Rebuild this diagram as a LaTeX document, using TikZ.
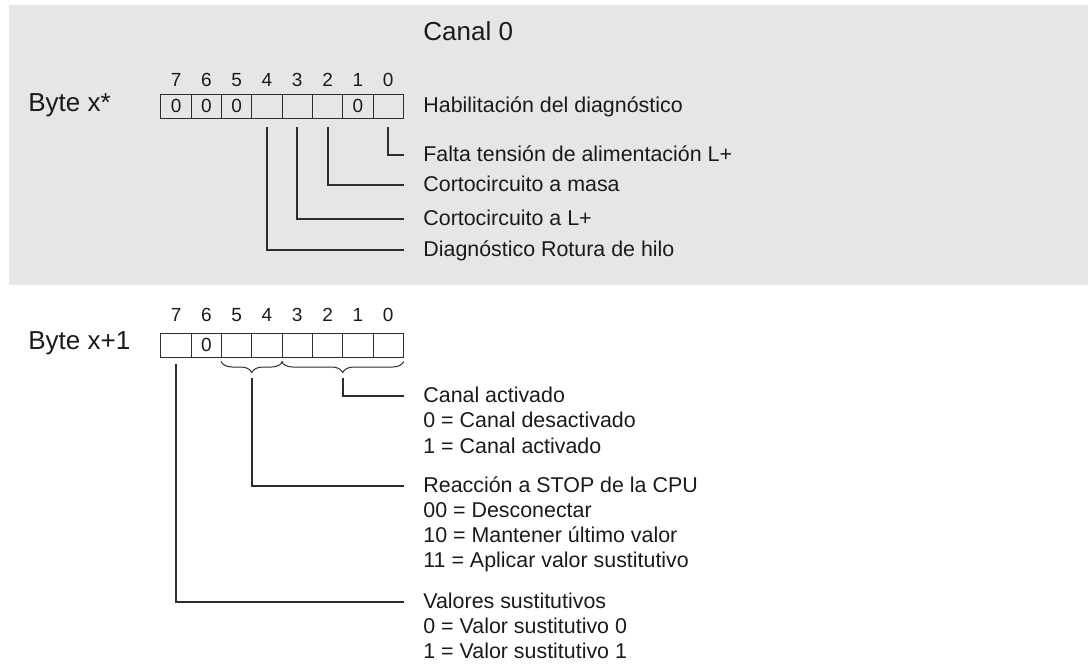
\documentclass[tikz,border=0pt]{standalone}
\usepackage{fontspec}
\setmainfont{Liberation Sans}
\usepackage{tikz}
\usetikzlibrary{positioning, decorations.pathreplacing}
\usepackage{xcolor}
\definecolor{panelgray}{RGB}{230,230,230}
\definecolor{inkgray}{RGB}{45,45,45}
\definecolor{textblack}{RGB}{26,26,26}
\tikzset{bitcell/.style={rectangle, draw=inkgray, line width=0.5pt, minimum width=15.15pt, minimum height=12pt, inner sep=0pt, text=textblack, font=\fontsize{9.5}{11}\selectfont},bitnumber/.style={inner sep=0pt, text=textblack, font=\fontsize{9.5}{11}\selectfont}}
\tikzset{desctext/.style={anchor=west, inner xsep=9.5pt, inner ysep=0pt, text height=7.5pt, text depth=1.5pt, text=textblack, font=\fontsize{10.7}{12}\selectfont},bytelabel/.style={anchor=west, inner sep=0pt, text=textblack, font=\fontsize{13}{15}\selectfont}}

\begin{document}
\begin{tikzpicture}[
        x=0.5pt, y=-0.5pt,
        leader/.style={draw=inkgray, line width=1pt},
        bracestyle/.style={draw=inkgray, line width=0.5pt, decorate, decoration={brace, mirror, amplitude=5.5pt}}
    ]
        % Frame
        \useasboundingbox (0,0) rectangle (1090,669);
        \fill[panelgray] (9,5) rectangle (1088,285);
        % Titles
        \node[desctext, font=\fontsize{13}{15}\selectfont, text height=9.5pt, text depth=2pt] (canal) at (404,33) {Canal 0};
        \node[bytelabel] (bytex) at (28,105) {Byte x*};
        \node[bytelabel] (bytexone) at (28,343) {Byte x+1};
        % Byte x* cells
        \foreach \i/\v in {7/0, 6/0, 5/0, 4/{}, 3/{}, 2/{}, 1/0, 0/{}} {
            \node[bitcell] (a\i) at ({403.3-30.3*(\i+0.5)}, 106) {\v};
            \node[bitnumber] (na\i) at ({403.3-30.3*(\i+0.5)}, 80) {\i};
        }
        % Byte x+1 cells
        \foreach \i/\v in {7/{}, 6/0, 5/{}, 4/{}, 3/{}, 2/{}, 1/{}, 0/{}} {
            \node[bitcell] (b\i) at ({403.3-30.3*(\i+0.5)}, 345) {\v};
            \node[bitnumber] (nb\i) at ({403.3-30.3*(\i+0.5)}, 315) {\i};
        }
        % Texts of byte x*
        \node[desctext] (habil) at (404,106) {Habilitación del diagnóstico};
        \node[desctext] (falta) at (404,155) {Falta tensión de alimentación L+};
        \node[desctext] (masa) at (404,185) {Cortocircuito a masa};
        \node[desctext] (cortol) at (404,219) {Cortocircuito a L+};
        \node[desctext] (rotura) at (404,250) {Diagnóstico Rotura de hilo};
        % Texts of byte x+1
        \node[desctext] (activ) at (404,396) {Canal activado};
        \node[desctext] (reac) at (404,486) {Reacción a STOP de la CPU};
        \node[desctext] (valor) at (404,602) {Valores sustitutivos};
        \foreach \y/\t in {
            421/0 = Canal desactivado,
            447/1 = Canal activado,
            511/00 = Desconectar,
            536/10 = Mantener último valor,
            561/11 = Aplicar valor sustitutivo,
            627/0 = Valor sustitutivo 0,
            652/1 = Valor sustitutivo 1} {
            \node[desctext] (opt\y) at (404,\y) {\t};
        }
        % Leaders of byte x*
        \draw[leader] ([yshift=-4pt]a0.south) |- (falta.west);
        \draw[leader] ([yshift=-4pt]a2.south) |- (masa.west);
        \draw[leader] ([yshift=-4pt]a3.south) |- (cortol.west);
        \draw[leader] ([yshift=-4pt]a4.south) |- (rotura.west);
        % Braces and leaders of byte x+1
        \draw[bracestyle] ([yshift=-2pt]b5.south west) -- ([yshift=-2pt]b4.south east);
        \draw[bracestyle] ([yshift=-2pt]b3.south west) -- ([yshift=-2pt]b0.south east);
        \draw[leader] ([yshift=-10pt]b5.south east) |- (reac.west);
        \draw[leader] ([yshift=-10pt]b2.south east) |- (activ.west);
        \draw[leader] ([yshift=-3pt]b7.south) |- (valor.west);
    \end{tikzpicture}
\end{document}
